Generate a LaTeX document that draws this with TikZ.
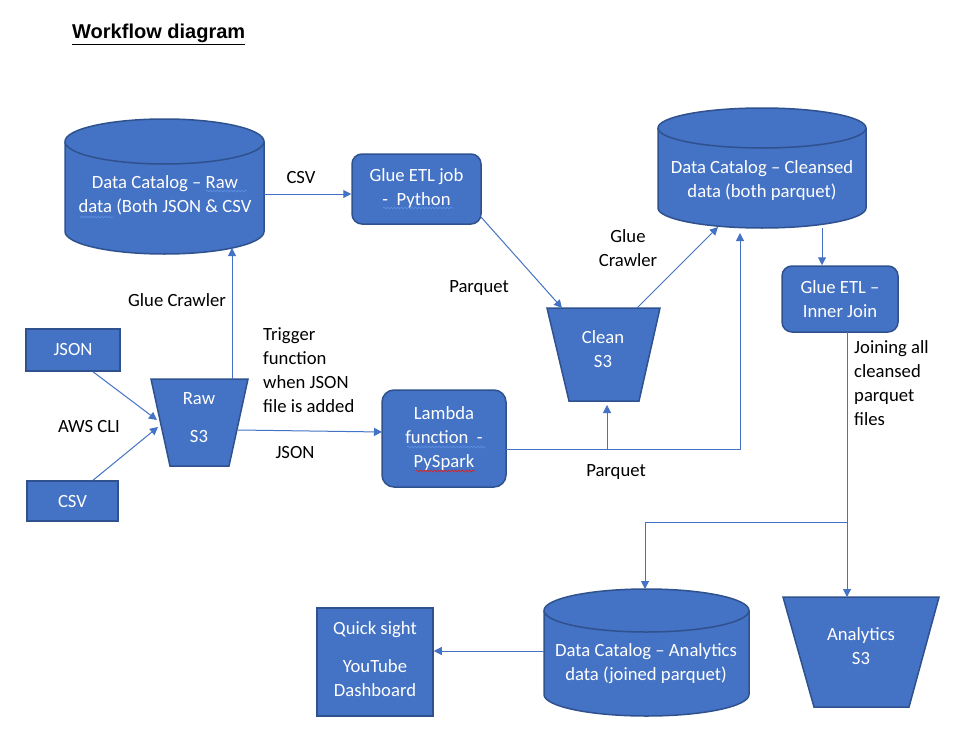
\documentclass[tikz,border=0pt]{standalone}
\usepackage{fontspec}
\setmainfont{Carlito}
\newfontfamily\titlefont{Liberation Sans}
\usetikzlibrary{arrows.meta,calc,decorations.pathmorphing}
\definecolor{obl}{HTML}{4472C4}
\definecolor{odk}{HTML}{2F528F}
\definecolor{sqblue}{HTML}{5B8FE0}
\definecolor{sqred}{HTML}{E02020}
\begin{document}
\begin{tikzpicture}[x=1pt,y=-1pt,
  shp/.style={fill=obl,draw=odk,line width=1.5pt},
  txt/.style={text=white,font=\fontsize{18.67}{24}\selectfont,align=center,inner sep=0pt},
  lbl/.style={text=black,font=\fontsize{18.67}{24}\selectfont,align=left,inner sep=0pt},
  conn/.style={draw=obl,line width=1pt},
  arr/.style={conn,-{Triangle[length=8pt,width=8pt]}},
  squig/.style={line width=0.7pt,decorate,decoration={snake,segment length=3.5pt,amplitude=0.9pt}}
]
\useasboundingbox (0,0) rectangle (957,752);
\fill[white] (0,0) rectangle (957,752);

% title
\node[anchor=base west,inner sep=0pt,font=\titlefont\bfseries\fontsize{20}{24}\selectfont] (title) at (72,38.5) {\underline{Workflow diagram}};

% ---- cylinders ----
% raw catalog
\path[shp] (65,141.5) -- (65,231.5) arc[start angle=180,end angle=360,x radius=99.5pt,y radius=22.5pt]
  -- (264,141.5) arc[start angle=0,end angle=180,x radius=99.5pt,y radius=22.5pt] -- cycle;
\draw[odk,line width=1.5pt] (65,141.5) arc[start angle=180,end angle=360,x radius=99.5pt,y radius=22.5pt];
\node[txt] (rawcat) at (165,195) {Data Catalog -- Raw\\data (Both JSON \& CSV};

% cleansed catalog
\path[shp] (658,128) -- (658,208) arc[start angle=180,end angle=360,x radius=104pt,y radius=20pt]
  -- (866,128) arc[start angle=0,end angle=180,x radius=104pt,y radius=20pt] -- cycle;
\draw[odk,line width=1.5pt] (658,128) arc[start angle=180,end angle=360,x radius=104pt,y radius=20pt];
\node[txt] (clcat) at (762,180.5) {Data Catalog -- Cleansed\\data (both parquet)};

% analytics catalog
\path[shp] (544,610.5) -- (544,694.5) arc[start angle=180,end angle=360,x radius=102.5pt,y radius=21.5pt]
  -- (749,610.5) arc[start angle=0,end angle=180,x radius=102.5pt,y radius=21.5pt] -- cycle;
\draw[odk,line width=1.5pt] (544,610.5) arc[start angle=180,end angle=360,x radius=102.5pt,y radius=21.5pt];
\node[txt] (ancat) at (646,664) {Data Catalog -- Analytics\\data (joined parquet)};

% ---- trapezoids (S3 buckets) ----
\path[shp] (151,379) -- (248,379) -- (229,466) -- (170,466) -- cycle;
\node[txt] (raws3) at (199,418) {Raw\\[14pt]S3};
\path[shp] (547,308) -- (660,308) -- (639,401) -- (569,401) -- cycle;
\node[txt] (cleans3) at (603,349) {Clean\\S3};
\path[shp] (783,597) -- (939,597) -- (909,707) -- (814,707) -- cycle;
\node[txt] (ans3) at (861,646) {Analytics\\S3};

% ---- boxes ----
\node[shp,txt,minimum width=94pt,minimum height=42pt] (json) at (73,350) {JSON};
\node[shp,txt,minimum width=91pt,minimum height=40pt] (csv) at (72.5,501) {CSV};
\node[shp,txt,rounded corners=10pt,minimum width=129pt,minimum height=70pt] (gluejob) at (416.5,189) {Glue ETL job\\ -\ \ Python};
\node[shp,txt,rounded corners=12pt,minimum width=124pt,minimum height=97pt] (lambda) at (444,438.5) {Lambda\\function\ \ -\\PySpark};
\node[shp,txt,rounded corners=10pt,minimum width=116pt,minimum height=66pt] (join) at (840,299) {Glue ETL --\\Inner Join};
\node[shp,minimum width=116pt,minimum height=108pt] (quick) at (375,662) {};
\node[txt] (quicktxt) at (375,659) {Quick sight\\[14pt]YouTube\\Dashboard};

% spell-check squiggles
\draw[sqblue,squig] (206,191) -- (247,191);
\draw[sqblue,squig] (80,217) -- (113,217);
\draw[sqblue,squig] (383,208) -- (453,208);
\draw[sqblue,squig] (407,447) -- (485,447);
\draw[sqred,squig] (416,471) -- (475,471);

% ---- connection points ----
\coordinate (rc-e) at (264,194);
\coordinate (rc-b) at (232,248);
\coordinate (raws3-t) at (232,379);
\coordinate (raws3-l1) at (157,420);
\coordinate (raws3-l2) at (158,427);
\coordinate (raws3-r) at (238,430);
\coordinate (lam-w) at (382,432);
\coordinate (gj-se) at (481,217);
\coordinate (cl-tl) at (562,308);
\coordinate (cl-tr) at (637,308);
\coordinate (cc-bl) at (718,227);
\coordinate (cc-b) at (740,233);
\coordinate (cc-bj) at (822,228);
\coordinate (lam-e) at (506,449);
\coordinate (pq-corner) at (740,449);
\coordinate (pq-branch) at (607,449);
\coordinate (cl-b) at (607,405);
\coordinate (join-s) at (847,332);
\coordinate (split) at (847,522);
\coordinate (ac-t) at (645,589);
\coordinate (as3-t) at (847,597);
\coordinate (ac-w) at (544,651);

% ---- connectors ----
\draw[arr] (rc-e) -- (rc-e -| gluejob.west);
\draw[arr] (raws3-t) -- (rc-b);
\draw[arr] ([xshift=20pt]json.south) -- (raws3-l1);
\draw[arr] ([xshift=20.5pt]csv.north) -- (raws3-l2);
\draw[arr] (raws3-r) -- (lam-w);
\draw[arr] (gj-se) -- (cl-tl);
\draw[arr] (cl-tr) -- (cc-bl);
\draw[arr] (lam-e) -- (pq-corner) -- (cc-b);
\draw[arr] (pq-branch) -- (cl-b);
\draw[arr] (cc-bj) -- (cc-bj |- join.north);
\draw[arr] (join-s) -- (as3-t);
\draw[arr] (split) -| (ac-t);
\draw[arr] (ac-w) -- (ac-w -| quick.east);

% ---- labels ----
\node[lbl] (l-csv) at (301,178) {CSV};
\node[lbl] (l-crawl1) at (177,300) {Glue Crawler};
\node[lbl] (l-cli) at (89,426) {AWS CLI};
\node[lbl] (l-json) at (295,452) {JSON};
\node[lbl,anchor=west] (l-trig) at (263,370) {Trigger\\function\\when JSON\\file is added};
\node[lbl] (l-pq1) at (479,288) {Parquet};
\node[lbl,align=center] (l-crawl2) at (628,248.5) {Glue\\Crawler};
\node[lbl] (l-pq2) at (616,472) {Parquet};
\node[lbl,anchor=west] (l-join) at (854,383) {Joining all\\cleansed\\parquet\\files};
\end{tikzpicture}
\end{document}
